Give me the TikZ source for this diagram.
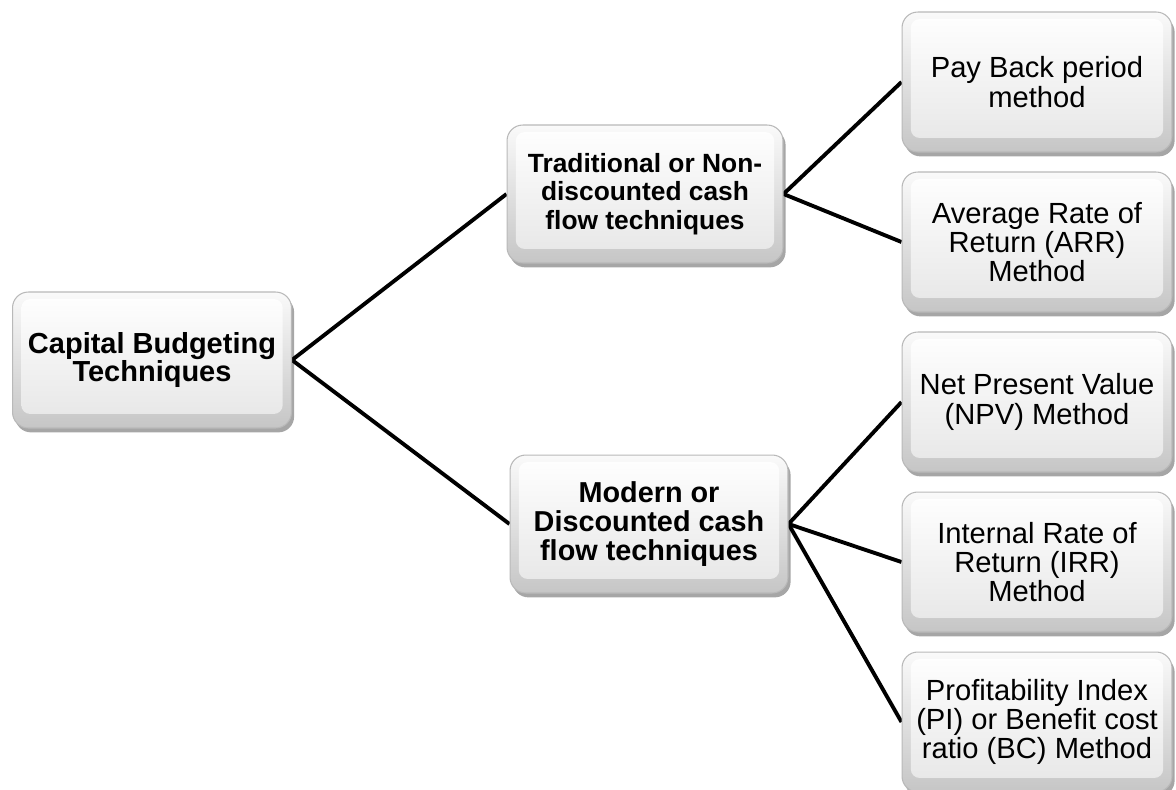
\documentclass[tikz,border=0pt]{standalone}
\usepackage{fontspec}
\setmainfont{Liberation Sans}
\usetikzlibrary{shadows,calc,backgrounds}
\tikzset{
  box/.style={rectangle, rounded corners=9pt, draw=gray!55, line width=0.6pt,
    top color=gray!4, bottom color=gray!45,
    drop shadow={shadow xshift=1.5pt, shadow yshift=-2.5pt, opacity=0.35, fill=black},
    align=center, inner sep=0pt, text=black,
    font=\fontsize{16.6}{16.6}\selectfont,
    path picture={\shade[top color=white, bottom color=gray!20, rounded corners=5pt]
      ($(path picture bounding box.south west)+(5pt,8pt)$) rectangle
      ($(path picture bounding box.north east)+(-5pt,-4pt)$);}},
  leaf/.style={box, minimum width=5.4cm, minimum height=2.8cm},
  mid/.style={box, minimum height=2.76cm},
  conn/.style={line width=2.2pt, black}
}
\begin{document}
\begin{tikzpicture}[x=0.02cm, y=-0.02cm]
\useasboundingbox (0,0) rectangle (1176,789);
\node[mid, minimum width=5.58cm, minimum height=2.72cm, font=\bfseries\fontsize{16.5}{15.5}\selectfont] (root) at (152,360) {Capital Budgeting\\Techniques};
\node[mid, minimum width=5.52cm, font=\bfseries\fontsize{15}{16.2}\selectfont] (trad) at (645,194) {Traditional or Non-\\discounted cash\\flow techniques};
\node[mid, minimum width=5.56cm, font=\bfseries\fontsize{16.4}{16.4}\selectfont] (mod) at (649,524) {Modern or\\Discounted cash\\flow techniques};
\node[leaf] (pb) at (1037,82) {Pay Back period\\method};
\node[leaf] (arr) at (1037,242) {Average Rate of\\Return (ARR)\\Method};
\node[leaf] (npv) at (1037,402) {Net Present Value\\(NPV) Method};
\node[leaf] (irr) at (1037,562) {Internal Rate of\\Return (IRR)\\Method};
\node[leaf] (pi) at (1037,722) {Profitability Index\\(PI) or Benefit cost\\ratio (BC) Method};
\begin{scope}[on background layer]
\fill[white] (0,0) rectangle (1176,789);
\draw[conn] (root.east) -- (trad.west);
\draw[conn] (root.east) -- (mod.west);
\draw[conn] (trad.east) -- (pb.west);
\draw[conn] (trad.east) -- (arr.west);
\draw[conn] (mod.east) -- (npv.west);
\draw[conn] (mod.east) -- (irr.west);
\draw[conn] (mod.east) -- (pi.west);
\end{scope}
\end{tikzpicture}
\end{document}
